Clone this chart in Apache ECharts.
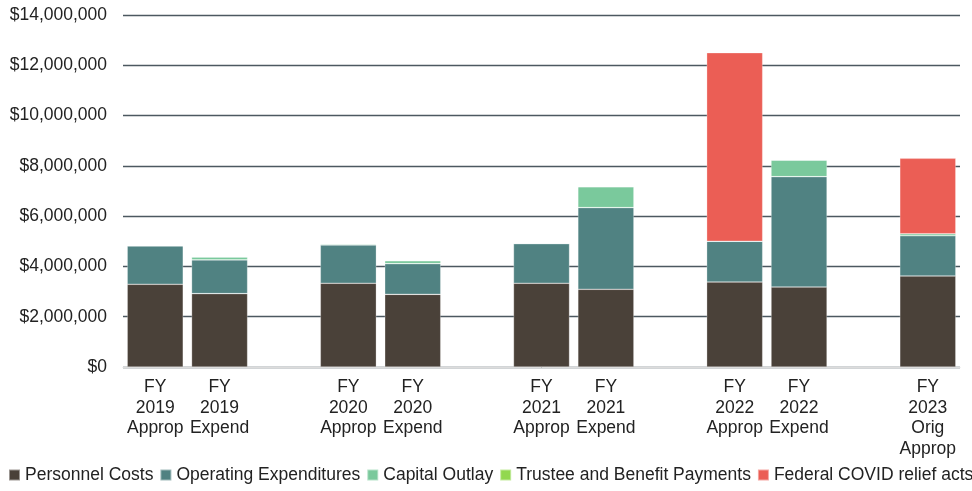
<!DOCTYPE html>
<html>
<head>
<meta charset="utf-8">
<script src="https://cdn.jsdelivr.net/npm/echarts@6/dist/echarts.min.js"></script>
<style>
  html, body { margin: 0; padding: 0; background: #fff; }
  #chart { width: 972px; height: 491px; }
</style>
</head>
<body>
<div id="chart"></div>
<script>
// empty strings are the spacer slots between fiscal years
const categories = [
  'FY\n2019\nApprop', 'FY\n2019\nExpend', '',
  'FY\n2020\nApprop', 'FY\n2020\nExpend', '',
  'FY\n2021\nApprop', 'FY\n2021\nExpend', '',
  'FY\n2022\nApprop', 'FY\n2022\nExpend', '',
  'FY\n2023\nOrig\nApprop'
];
const personnel = [3290000, 2920000, '-', 3330000, 2890000, '-', 3330000, 3090000, '-', 3380000, 3180000, '-', 3620000];
const operating = [1530000, 1340000, '-', 1520000, 1220000, '-', 1580000, 3250000, '-', 1620000, 4390000, '-', 1600000];
const capital = [0, 120000, '-', 40000, 120000, '-', 0, 830000, '-', 0, 660000, '-', 80000];
const trustee = [0, 0, '-', 0, 0, '-', 0, 0, '-', 0, 0, '-', 0];
const covid = [0, 0, '-', 0, 0, '-', 0, 0, '-', 7500000, 0, '-', 3000000];
const yTicks = { min: 0, max: 14000000, step: 2000000 };

const font = '"Liberation Sans", Arial, sans-serif';
const fs = 17.5;
const chart = echarts.init(document.getElementById('chart'));

const makeSeries = (name, data, color) => ({
  name: name,
  type: 'bar',
  stack: 'total',
  data: data,
  barCategoryGap: '13%',
  itemStyle: { color: color, borderColor: 'rgba(255,255,255,0.45)', borderWidth: 0.6 },
  emphasis: { disabled: true }
});

chart.setOption({
  animation: false,
  textStyle: { fontFamily: font },
  grid: { left: 123, right: 12, top: 15, bottom: 124, containLabel: false },
  legend: {
    left: 3,
    bottom: 2,
    width: 1400,
    icon: 'rect',
    itemWidth: 11,
    itemHeight: 11,
    itemGap: 6,
    textStyle: { fontFamily: font, fontSize: fs, color: '#222' },
    data: ['Personnel Costs', 'Operating Expenditures', 'Capital Outlay', 'Trustee and Benefit Payments', 'Federal COVID relief acts']
  },
  xAxis: {
    type: 'category',
    data: categories,
    axisTick: { show: false },
    axisLine: { lineStyle: { color: '#dcdcdc', width: 1 } },
    axisLabel: {
      interval: 0,
      margin: 10,
      fontFamily: font,
      fontSize: fs,
      lineHeight: 20.5,
      color: '#222'
    }
  },
  yAxis: {
    type: 'value',
    min: yTicks.min,
    max: yTicks.max,
    interval: yTicks.step,
    axisLine: { show: false },
    axisTick: { show: false },
    splitLine: { lineStyle: { color: '#4c5860', width: 1.3 } },
    axisLabel: {
      margin: 16,
      fontFamily: font,
      fontSize: fs,
      color: '#222',
      formatter: v => '$' + v.toLocaleString('en-US')
    }
  },
  series: [
    makeSeries('Personnel Costs', personnel, '#4a4139'),
    makeSeries('Operating Expenditures', operating, '#508282'),
    makeSeries('Capital Outlay', capital, '#7ac99c'),
    makeSeries('Trustee and Benefit Payments', trustee, '#92d84f'),
    makeSeries('Federal COVID relief acts', covid, '#eb5e55')
  ]
});
</script>
</body>
</html>
